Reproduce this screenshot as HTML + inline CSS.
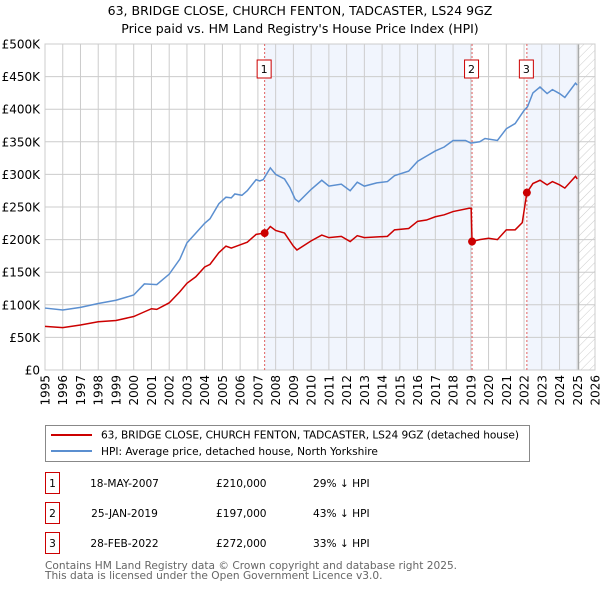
<!DOCTYPE html>
<html><head><meta charset="utf-8"><style>
body{margin:0;background:#fff;font-family:"DejaVu Sans","Liberation Sans",sans-serif;}
svg text{font-family:"DejaVu Sans","Liberation Sans",sans-serif;}
</style></head><body>
<svg id="c" width="600" height="590" xmlns="http://www.w3.org/2000/svg">
<defs><pattern id="hatch" width="6" height="6" patternUnits="userSpaceOnUse" patternTransform="rotate(45)"><line x1="0" y1="0" x2="0" y2="6" stroke="#ccc" stroke-width="1"/></pattern></defs>
<text x="300" y="15" text-anchor="middle" font-size="12.5">63, BRIDGE CLOSE, CHURCH FENTON, TADCASTER, LS24 9GZ</text>
<text x="300" y="33" text-anchor="middle" font-size="12.5">Price paid vs. HM Land Registry's House Price Index (HPI)</text>
<g id="plot"></g>
<rect x="45.5" y="425.5" width="484" height="36" fill="#fff" stroke="#888"/>
<line x1="51" y1="435" x2="92" y2="435" stroke="#cc0000" stroke-width="2"/>
<text x="101" y="438.5" font-size="10.6" textLength="418">63, BRIDGE CLOSE, CHURCH FENTON, TADCASTER, LS24 9GZ (detached house)</text>
<line x1="51" y1="451" x2="92" y2="451" stroke="#5b8fd0" stroke-width="2"/>
<text x="101" y="455" font-size="10.6">HPI: Average price, detached house, North Yorkshire</text>
<g id="tbl" font-size="10.6"></g>
<text x="45" y="569" font-size="10.6" fill="#666">Contains HM Land Registry data © Crown copyright and database right 2025.</text>
<text x="45" y="579" font-size="10.6" fill="#666">This data is licensed under the Open Government Licence v3.0.</text>
</svg>
<script>
const hpiYears=[1995,1996,1997,1998,1999,2000,2000.6,2001.3,2002,2002.6,2003,2003.5,2004,2004.3,2004.8,2005.2,2005.5,2005.7,2006.1,2006.4,2006.9,2007.1,2007.3,2007.7,2008,2008.5,2008.8,2009.1,2009.3,2010,2010.6,2011,2011.7,2012.2,2012.6,2013,2013.7,2014.3,2014.7,2015.5,2016,2016.5,2017,2017.5,2018,2018.7,2019,2019.5,2019.8,2020.5,2021,2021.5,2022,2022.2,2022.5,2022.9,2023.3,2023.6,2024,2024.3,2024.9,2025];
const hpiValues=[95,92,96,102,107,115,132,131,147,170,195,210,225,232,255,265,264,270,268,275,292,290,292,310,300,293,280,262,258,277,291,282,285,275,288,282,287,289,298,305,320,328,336,342,352,352,348,350,355,352,370,378,398,404,425,434,424,430,424,418,440,437];
const ppYears=[1995,1996,1997,1998,1999,2000,2000.5,2001,2001.3,2002,2002.6,2003,2003.5,2004,2004.3,2004.8,2005.2,2005.5,2006,2006.4,2006.9,2007.38,2007.7,2008,2008.5,2009,2009.2,2010,2010.6,2011,2011.7,2012.2,2012.6,2013,2014.3,2014.7,2015.5,2016,2016.5,2017,2017.5,2018,2018.9,2019.02,2019.07,2019.5,2020,2020.5,2021,2021.5,2021.9,2022.16,2022.5,2022.9,2023.3,2023.6,2024,2024.3,2024.9,2025];
const ppValues=[67,65,69,74,76,82,88,94,93,103,120,133,143,158,162,180,190,187,192,196,208,210,220,214,210,190,184,198,207,203,205,197,206,203,205,215,217,228,230,235,238,243,248,248,197,200,202,200,215,215,226,272,286,291,284,289,284,279,297,293];
const saleYears=[2007.38,2019.07,2022.16];
const saleValues=[210,197,272];
const saleLabels=["1","2","3"];
const saleDates=["18-MAY-2007","25-JAN-2019","28-FEB-2022"];
const salePrices=["£210,000","£197,000","£272,000"];
const saleDiffs=["29% ↓ HPI","43% ↓ HPI","33% ↓ HPI"];
const yTicks=[0,50,100,150,200,250,300,350,400,450,500];
const yTickLabels=["£0","£50K","£100K","£150K","£200K","£250K","£300K","£350K","£400K","£450K","£500K"];
const xTicks=[1995,1996,1997,1998,1999,2000,2001,2002,2003,2004,2005,2006,2007,2008,2009,2010,2011,2012,2013,2014,2015,2016,2017,2018,2019,2020,2021,2022,2023,2024,2025,2026];

const NS="http://www.w3.org/2000/svg";
const X0=45,X1=595,Y0=370,Y1=44;
const xs=y=>X0+(y-1995)/31*(X1-X0);
const ys=v=>Y0-v/500*(Y0-Y1);
const g=document.getElementById('plot');
function mk(t,a,p){const e=document.createElementNS(NS,t);for(const k in a)e.setAttribute(k,a[k]);(p||g).appendChild(e);return e;}
let e;
e=mk('rect',{x:xs(saleYears[0]),y:Y1,width:xs(saleYears[1])-xs(saleYears[0]),height:Y0-Y1,fill:'#eef3fc',opacity:0.8});


e=mk('rect',{x:xs(saleYears[2]),y:Y1,width:xs(2025.08)-xs(saleYears[2]),height:Y0-Y1,fill:'#eef3fc',opacity:0.8});


e=mk('rect',{x:xs(2025.08),y:Y1,width:X1-xs(2025.08),height:Y0-Y1,fill:'url(#hatch)'});


yTicks.forEach((v,i)=>{
  e=mk('line',{x1:X0,x2:X1,y1:ys(v),y2:ys(v),stroke:'#ccc'});
  
  
  e=mk('text',{x:40,y:ys(v)+4.5,'text-anchor':'end','font-size':12});
  e.textContent=yTickLabels[i];
  
  
});
xTicks.forEach(y=>{
  e=mk('line',{x1:xs(y),x2:xs(y),y1:Y1,y2:Y0,stroke:'#ccc'});
  
  
  e=mk('text',{x:0,y:0,'text-anchor':'end','font-size':12,transform:`translate(${xs(y)+4.5},375) rotate(-90)`});
  e.textContent=y;
  
  
});
e=mk('line',{x1:xs(2025.08),x2:xs(2025.08),y1:Y1,y2:Y0,stroke:'#999'});


e=mk('rect',{x:X0,y:Y1,width:X1-X0,height:Y0-Y1,fill:'none',stroke:'#ccc'});


saleYears.forEach((y,i)=>{
  e=mk('line',{x1:xs(y),x2:xs(y),y1:Y1,y2:Y0,stroke:'#e06060','stroke-dasharray':'2,2'});
  
  
});
e=mk('polyline',{points:hpiYears.map((y,i)=>xs(y)+','+ys(hpiValues[i])).join(' '),fill:'none',stroke:'#5b8fd0','stroke-width':1.5});


e=mk('polyline',{points:ppYears.map((y,i)=>xs(y)+','+ys(ppValues[i])).join(' '),fill:'none',stroke:'#cc0000','stroke-width':1.5});


saleYears.forEach((y,i)=>{
  e=mk('circle',{cx:xs(y),cy:ys(saleValues[i]),r:4,fill:'#cc0000'});
  
  
  e=mk('rect',{x:xs(y)-7.5,y:60,width:14,height:18,fill:'#fff',stroke:'#cc0000'});
  
  
  e=mk('text',{x:xs(y)-0.5,y:73,'text-anchor':'middle','font-size':11});
  e.textContent=saleLabels[i];
  
  
});
const t=document.getElementById('tbl');
saleLabels.forEach((l,i)=>{
  const cy=483+i*30;
  e=mk('rect',{x:45.5,y:cy-10.5,width:14,height:21,fill:'#fff',stroke:'#cc0000'},t);
  
  
  e=mk('text',{x:52.5,y:cy+4,'text-anchor':'middle'},t);e.textContent=l;
  
  
  e=mk('text',{x:124.5,y:cy+4,'text-anchor':'middle'},t);e.textContent=saleDates[i];
  
  
  e=mk('text',{x:216,y:cy+4},t);e.textContent=salePrices[i];
  
  
  e=mk('text',{x:313,y:cy+4},t);e.textContent=saleDiffs[i];
  
  
});
</script>
</body></html>
